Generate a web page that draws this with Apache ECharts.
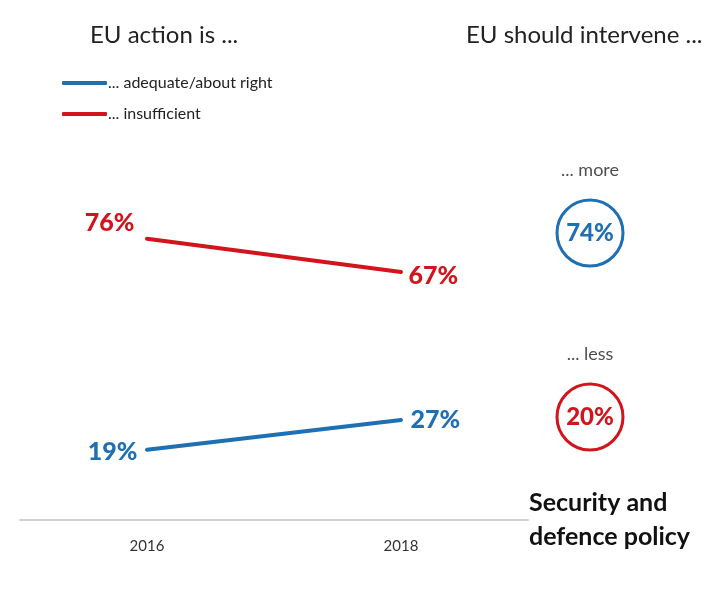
<!DOCTYPE html>
<html>
<head>
<meta charset="utf-8">
<style>
  html, body { margin: 0; padding: 0; background: #fff; }
  #chart { width: 724px; height: 598px; }
</style>
<script src="https://cdn.jsdelivr.net/npm/echarts@6/dist/echarts.min.js"></script>
</head>
<body>
<div id="chart"></div>
<script>
// years on the x axis
const years = ['2016', '2018']
// EU action is ...
const actionNames = ['... adequate/about right', '... insufficient']
const adequate = [19, 27]
const insufficient = [76, 67]
// EU should intervene ...
const interveneNames = ['... more', '... less']
const interveneValues = [74, 20]

const BLUE = '#1f6fb3'
const RED = '#d2141c'
const FONT = 'Lato'

const chart = echarts.init(document.getElementById('chart'))

// first point label on the left, second on the right
function lineData(values, first, second) {
  return values.map((v, i) => ({
    value: v,
    label: i === 0
      ? { position: 'left', distance: first[0], offset: [0, first[1]] }
      : { position: 'right', distance: second[0], offset: [0, second[1]] }
  }))
}

const pctLabel = color => ({
  show: true,
  formatter: '{c}%',
  color: color,
  fontFamily: FONT,
  fontWeight: 900,
  fontSize: 25
})

chart.setOption({
  animation: false,
  textStyle: { fontFamily: FONT },
  title: [
    { text: 'EU action is ...', left: 85, top: 18, textStyle: { fontFamily: FONT, fontSize: 24, fontWeight: 'normal', color: '#222' } },
    { text: 'EU should intervene ...', left: 461, top: 18, textStyle: { fontFamily: FONT, fontSize: 24, fontWeight: 'normal', color: '#222' } },
    { text: 'Security and\ndefence policy', left: 524, top: 481, textStyle: { fontFamily: FONT, fontSize: 25, fontWeight: 'bold', color: '#111', lineHeight: 34 } }
  ],
  legend: {
    orient: 'vertical',
    left: 57,
    top: 70,
    itemWidth: 45,
    itemHeight: 4,
    itemGap: 15,
    icon: 'roundRect',
    data: [actionNames[0], actionNames[1]],
    textStyle: { fontFamily: FONT, fontSize: 16, color: '#222', padding: [0, 0, 0, -4] }
  },
  grid: [
    { left: 20, width: 508, top: 150, height: 370 },
    { left: 540, width: 100, top: 141, height: 368 }
  ],
  xAxis: [
    {
      gridIndex: 0,
      type: 'category',
      data: years,
      axisLine: { lineStyle: { color: '#d0d0d0', width: 2 } },
      axisTick: { show: false },
      axisLabel: { fontFamily: FONT, fontSize: 15, color: '#333', margin: 19 }
    },
    { gridIndex: 1, type: 'category', data: [''], show: false }
  ],
  yAxis: [
    { gridIndex: 0, type: 'value', min: 0, max: 100, show: false },
    { gridIndex: 1, type: 'category', data: interveneNames, inverse: true, show: false }
  ],
  series: [
    {
      name: actionNames[0],
      type: 'line',
      data: lineData(adequate, [9, 2], [9, 0]),
      color: BLUE,
      lineStyle: { width: 4, color: BLUE, cap: 'round' },
      symbol: 'circle',
      symbolSize: 1,
      itemStyle: { color: BLUE },
      label: pctLabel(BLUE)
    },
    {
      name: actionNames[1],
      type: 'line',
      data: lineData(insufficient, [12, -16], [7, 4]),
      color: RED,
      lineStyle: { width: 4, color: RED, cap: 'round' },
      symbol: 'circle',
      symbolSize: 1,
      itemStyle: { color: RED },
      label: pctLabel(RED)
    },
    {
      type: 'scatter',
      xAxisIndex: 1,
      yAxisIndex: 1,
      symbolSize: 66,
      data: interveneValues.map((v, i) => {
        const c = i === 0 ? BLUE : RED
        return {
          value: [0, i, v],
          itemStyle: { color: '#fff', borderColor: c, borderWidth: 3, opacity: 1 },
          label: { color: c }
        }
      }),
      label: {
        show: true,
        position: 'inside',
        formatter: p => p.value[2] + '%',
        fontFamily: FONT,
        fontWeight: 900,
        fontSize: 24
      }
    },
    {
      type: 'scatter',
      xAxisIndex: 1,
      yAxisIndex: 1,
      symbolSize: 66,
      itemStyle: { color: 'transparent' },
      data: interveneNames.map((n, i) => [0, i]),
      label: {
        show: true,
        position: 'top',
        distance: 21,
        formatter: p => interveneNames[p.value[1]],
        fontFamily: FONT,
        fontSize: 18,
        color: '#222'
      }
    }
  ]
})
</script>
</body>
</html>
